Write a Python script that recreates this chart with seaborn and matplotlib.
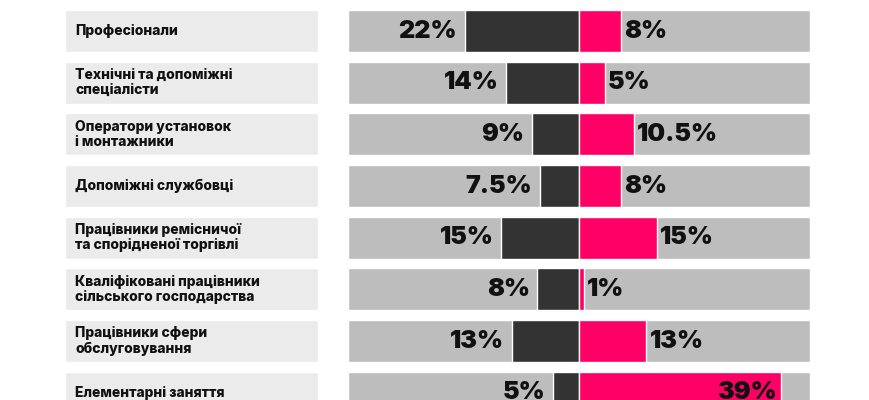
import matplotlib
matplotlib.use("Agg")
import matplotlib.pyplot as plt
import seaborn as sns
import pandas as pd

# Occupation groups (top one is cut off in the reference)
groups = ["Керівники",
          "Професіонали",
          "Технічні та допоміжні\nспеціалісти",
          "Оператори установок\nі монтажники",
          "Допоміжні службовці",
          "Працівники ремісничої\nта спорідненої торгівлі",
          "Кваліфіковані працівники\nсільського господарства",
          "Працівники сфери\nобслуговування",
          "Елементарні заняття"]
dark_vals = [7, 22, 14, 9, 7.5, 15, 8, 13, 5]
pink_vals = [1, 8, 5, 10.5, 8, 15, 1, 13, 39]
dark_text = ["7%", "22%", "14%", "9%", "7.5%", "15%", "8%", "13%", "5%"]
pink_text = ["1%", "8%", "5%", "10.5%", "8%", "15%", "1%", "13%", "39%"]

DARK = "#333333"
PINK = "#ff0066"
GRAY = "#bdbdbd"
LIGHT = "#ebebeb"
LIM = 44.5
H = 0.81

sns.set_theme(style="white")
plt.rcParams["font.family"] = ["Inter", "DejaVu Sans"]

df = pd.DataFrame({"group": groups, "dark": dark_vals, "pink": pink_vals})

fig = plt.figure(figsize=(8.7, 4), dpi=100)
ax_l = fig.add_axes([65 / 870, 0, 253 / 870, 1])
ax_r = fig.add_axes([348 / 870, 0, 462 / 870, 1])

# label panel
df["full"] = 1.0
sns.barplot(data=df, x="full", y="group", orient="h", color=LIGHT, width=H,
            saturation=1, ax=ax_l)
ax_l.set_xlim(0, 1)
for i, g in enumerate(groups):
    ax_l.text(0.04, i, g, va="center", ha="left", fontsize=10,
              fontweight="heavy", linespacing=1.1, color="#111111")

# bar panel
df["bg_l"] = -LIM
df["bg_r"] = LIM
df["neg_dark"] = [-v for v in dark_vals]
for col, c in [("bg_l", GRAY), ("bg_r", GRAY), ("neg_dark", DARK), ("pink", PINK)]:
    sns.barplot(data=df, x=col, y="group", orient="h", color=c, width=H,
                saturation=1, ax=ax_r)
ax_r.set_xlim(-LIM, LIM)

for i in range(len(groups)):
    ax_r.text(-dark_vals[i] - 1.5, i, dark_text[i], ha="right", va="center",
              fontsize=18, fontweight="black", color="#111111")
    if pink_vals[i] > 30:
        ax_r.text(pink_vals[i] - 1, i, pink_text[i], ha="right", va="center",
                  fontsize=18, fontweight="black", color="#111111")
    else:
        ax_r.text(pink_vals[i] + 0.6, i, pink_text[i], ha="left", va="center",
                  fontsize=18, fontweight="black", color="#111111")

for ax in (ax_l, ax_r):
    ax.set_ylim(8.14, 0.4)
    ax.axis("off")

fig.savefig("out.png", dpi=100, facecolor="white")
